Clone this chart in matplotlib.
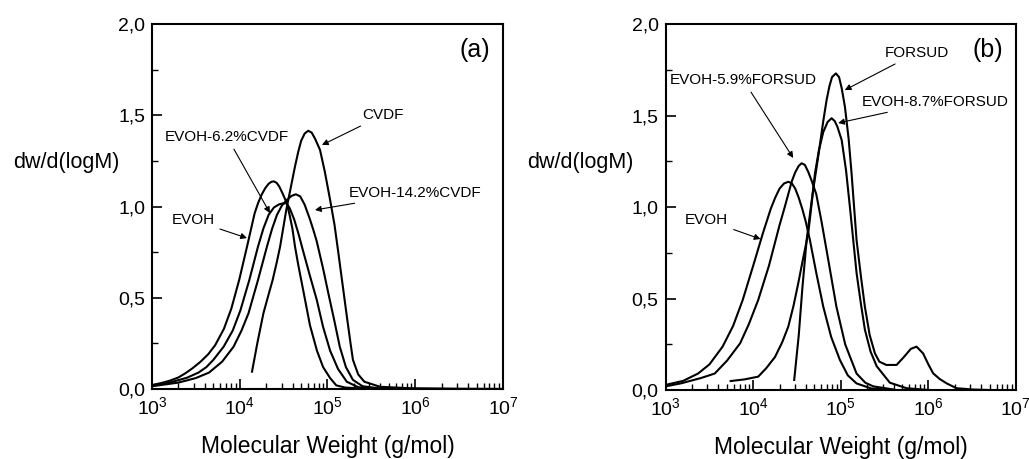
import matplotlib
matplotlib.use('Agg')
import matplotlib.pyplot as plt
import numpy as np
from matplotlib.ticker import MultipleLocator, LogLocator, NullFormatter

plt.rcParams['font.family'] = ['Liberation Sans', 'DejaVu Sans']
plt.rcParams['mathtext.fontset'] = 'custom'
plt.rcParams['mathtext.rm'] = 'Liberation Sans'
plt.rcParams['mathtext.default'] = 'regular'

# ---- data (log10 of M, dw/dlogM) ----
# panel (a)
a_evoh_lm = [3.0, 3.1, 3.2, 3.3, 3.38, 3.46, 3.55, 3.64, 3.72, 3.82, 3.904, 3.995, 4.083, 4.17,
             4.21, 4.25, 4.29, 4.33, 4.36, 4.387, 4.42, 4.45, 4.49, 4.535, 4.57, 4.60, 4.63, 4.667,
             4.744, 4.80, 4.88, 4.95, 5.03, 5.10, 5.2, 5.5, 7.0]
a_evoh_y = [0.022, 0.032, 0.045, 0.063, 0.086, 0.113, 0.148, 0.19, 0.24, 0.33, 0.44, 0.60, 0.78, 0.963,
            1.02, 1.065, 1.10, 1.125, 1.135, 1.138, 1.13, 1.11, 1.07, 1.02, 0.95, 0.88, 0.78, 0.68,
            0.49, 0.35, 0.21, 0.12, 0.06, 0.02, 0.008, 0.0, 0.0]

a_62_lm = [3.0, 3.2, 3.4, 3.53, 3.62, 3.7, 3.817, 3.92, 4.007, 4.109, 4.208, 4.27, 4.33, 4.39, 4.45,
           4.50, 4.535, 4.57, 4.62, 4.67, 4.72, 4.80, 4.877, 4.95, 5.03, 5.12, 5.22, 5.35, 5.6, 7.0]
a_62_y = [0.018, 0.035, 0.062, 0.09, 0.12, 0.16, 0.232, 0.32, 0.43, 0.597, 0.78, 0.88, 0.955, 0.995, 1.012,
          1.018, 1.017, 0.99, 0.93, 0.85, 0.76, 0.62, 0.49, 0.34, 0.21, 0.11, 0.04, 0.01, 0.0, 0.0]

a_142_lm = [3.0, 3.3, 3.5, 3.65, 3.8, 3.93, 4.02, 4.10, 4.208, 4.31, 4.37, 4.425, 4.48, 4.535,
            4.59, 4.64, 4.69, 4.74, 4.80, 4.84, 4.877, 4.95, 5.01, 5.08, 5.14, 5.21, 5.29, 5.4, 5.6, 7.0]
a_142_y = [0.015, 0.035, 0.06, 0.09, 0.15, 0.232, 0.32, 0.415, 0.597, 0.78, 0.88, 0.955, 1.005, 1.035,
           1.058, 1.067, 1.055, 1.01, 0.93, 0.87, 0.81, 0.66, 0.524, 0.37, 0.232, 0.12, 0.05, 0.015, 0.003, 0.0]

a_cvdf_lm = [4.14, 4.20, 4.27, 4.33, 4.375, 4.42, 4.46, 4.53, 4.58, 4.63, 4.667, 4.70, 4.74, 4.78,
             4.82, 4.86, 4.915, 4.97, 5.03, 5.08, 5.12, 5.17, 5.22, 5.26, 5.29, 5.35, 5.42, 5.6,
             6.0, 6.5, 7.0]
a_cvdf_y = [0.095, 0.25, 0.415, 0.52, 0.597, 0.69, 0.78, 0.98, 1.10, 1.22, 1.30, 1.36, 1.40, 1.415,
            1.405, 1.37, 1.31, 1.19, 1.036, 0.90, 0.76, 0.58, 0.40, 0.26, 0.16, 0.08, 0.04, 0.012,
            0.003, 0.0, 0.0]

# panel (b)
b_evoh_lm = [3.0, 3.2, 3.37, 3.5, 3.65, 3.77, 3.88, 4.0, 4.11, 4.2, 4.25, 4.3, 4.35, 4.40, 4.44,
             4.48, 4.52, 4.56, 4.60, 4.647, 4.72, 4.80, 4.89, 4.99, 5.08, 5.18, 5.35, 5.6]
b_evoh_y = [0.028, 0.05, 0.09, 0.14, 0.237, 0.35, 0.492, 0.68, 0.856, 0.99, 1.05, 1.10, 1.128, 1.138, 1.13,
            1.10, 1.05, 0.99, 0.92, 0.82, 0.64, 0.455, 0.29, 0.164, 0.08, 0.036, 0.008, 0.0]

b_59_lm = [3.0, 3.18, 3.4, 3.56, 3.7, 3.85, 3.95, 4.057, 4.18, 4.30, 4.36, 4.40, 4.44, 4.48, 4.52,
           4.553, 4.59, 4.63, 4.67, 4.72, 4.78, 4.85, 4.95, 5.05, 5.18, 5.28, 5.37, 5.6]
b_59_y = [0.02, 0.037, 0.065, 0.09, 0.16, 0.255, 0.36, 0.492, 0.68, 0.9, 1.0, 1.07, 1.14, 1.19, 1.225,
          1.239, 1.23, 1.19, 1.14, 1.07, 0.92, 0.73, 0.455, 0.25, 0.09, 0.04, 0.02, 0.003]

b_87_lm = [3.742, 3.9, 4.057, 4.15, 4.248, 4.33, 4.40, 4.46, 4.514, 4.57, 4.628, 4.67, 4.705, 4.75,
           4.80, 4.85, 4.895, 4.93, 4.96, 5.01, 5.06, 5.104, 5.18, 5.23, 5.275, 5.34, 5.41, 5.56, 5.75, 6.0]
b_87_y = [0.049, 0.058, 0.073, 0.12, 0.18, 0.26, 0.346, 0.46, 0.583, 0.72, 0.856, 1.03, 1.184, 1.31,
          1.41, 1.465, 1.485, 1.47, 1.44, 1.366, 1.2, 1.0, 0.64, 0.47, 0.33, 0.21, 0.13, 0.04, 0.01, 0.0]

b_fors_lm = [4.468, 4.52, 4.56, 4.61, 4.68, 4.742, 4.80, 4.838, 4.87, 4.90, 4.944, 4.98, 5.01, 5.047,
             5.09, 5.123, 5.18, 5.23, 5.275, 5.33, 5.39, 5.44, 5.52, 5.637, 5.72, 5.80, 5.865, 5.94,
             6.0, 6.055, 6.13, 6.21, 6.32, 6.5, 6.7]
b_fors_y = [0.055, 0.3, 0.55, 0.82, 1.08, 1.275, 1.47, 1.585, 1.66, 1.71, 1.73, 1.71, 1.65, 1.548,
            1.37, 1.184, 0.82, 0.62, 0.455, 0.3, 0.2, 0.155, 0.137, 0.137, 0.18, 0.225, 0.237, 0.2,
            0.14, 0.091, 0.06, 0.036, 0.01, 0.003, 0.0]

ytick_vals = [0.0, 0.5, 1.0, 1.5, 2.0]
ytick_labels = ['0,0', '0,5', '1,0', '1,5', '2,0']
xtick_vals = [1e3, 1e4, 1e5, 1e6, 1e7]
xtick_labels = ['$10^{3}$', '$10^{4}$', '$10^{5}$', '$10^{6}$', '$10^{7}$']

fig = plt.figure(figsize=(10.29, 4.59), dpi=100)
ax1 = fig.add_axes([0.1477, 0.1525, 0.3411, 0.7952])
ax2 = fig.add_axes([0.6469, 0.1503, 0.3404, 0.7974])

panels = [
    (ax1, [(a_evoh_lm, a_evoh_y), (a_62_lm, a_62_y), (a_142_lm, a_142_y), (a_cvdf_lm, a_cvdf_y)], '(a)'),
    (ax2, [(b_evoh_lm, b_evoh_y), (b_59_lm, b_59_y), (b_87_lm, b_87_y), (b_fors_lm, b_fors_y)], '(b)'),
]

for ax, curves, tag in panels:
    for lm, yy in curves:
        ax.plot(10 ** np.array(lm), yy, color='k', lw=1.5, solid_joinstyle='round')
    ax.set_xscale('log')
    ax.set_xlim(1e3, 1e7)
    ax.set_ylim(0, 2.0)
    ax.set_xticks(xtick_vals, xtick_labels)
    ax.set_yticks(ytick_vals, ytick_labels)
    ax.xaxis.set_minor_locator(LogLocator(base=10, subs=np.arange(2, 10), numticks=20))
    ax.xaxis.set_minor_formatter(NullFormatter())
    ax.yaxis.set_minor_locator(MultipleLocator(0.25))
    ax.tick_params(which='major', direction='in', length=7, width=1.2, labelsize=14, pad=5)
    ax.tick_params(which='minor', direction='in', length=4, width=1.0)
    ax.tick_params(top=False, right=False)
    for sp in ax.spines.values():
        sp.set_linewidth(1.5)
    ax.set_xlabel('Molecular Weight (g/mol)', fontsize=16.5, labelpad=12)
    ax.text(0.92, 0.93, tag, transform=ax.transAxes, fontsize=18, ha='center', va='center')

fig.text(0.064, 0.647, 'dw/d(logM)', fontsize=15.5, ha='center', va='center')
fig.text(0.564, 0.647, 'dw/d(logM)', fontsize=15.5, ha='center', va='center')

arrow = dict(arrowstyle='-|>', color='k', lw=0.8, mutation_scale=9, shrinkA=2, shrinkB=0)

# panel (a) labels
ax1.annotate('EVOH', xy=(1.21e4, 0.827), xytext=(2.93e3, 0.926), fontsize=11,
             ha='center', va='center', arrowprops=arrow)
ax1.annotate('EVOH-6.2%CVDF', xy=(2.21e4, 0.964), xytext=(7.17e3, 1.381), fontsize=11,
             ha='center', va='center', arrowprops=arrow)
ax1.annotate('CVDF', xy=(8.65e4, 1.337), xytext=(4.29e5, 1.501), fontsize=11,
             ha='center', va='center', arrowprops=arrow)
ax1.annotate('EVOH-14.2%CVDF', xy=(7.2e4, 0.981), xytext=(9.93e5, 1.074), fontsize=11,
             ha='center', va='center', arrowprops=arrow)

# panel (b) labels
ax2.annotate('EVOH', xy=(1.21e4, 0.825), xytext=(2.94e3, 0.929), fontsize=11,
             ha='center', va='center', arrowprops=arrow)
ax2.annotate('EVOH-5.9%FORSUD', xy=(2.86e4, 1.268), xytext=(7.69e3, 1.694), fontsize=11,
             ha='center', va='center', arrowprops=arrow)
ax2.annotate('FORSUD', xy=(1.11e5, 1.639), xytext=(7.3e5, 1.842), fontsize=11,
             ha='center', va='center', arrowprops=arrow)
ax2.annotate('EVOH-8.7%FORSUD', xy=(9.33e4, 1.459), xytext=(1.19e6, 1.574), fontsize=11,
             ha='center', va='center', arrowprops=arrow)

fig.savefig('out.png', dpi=100)
